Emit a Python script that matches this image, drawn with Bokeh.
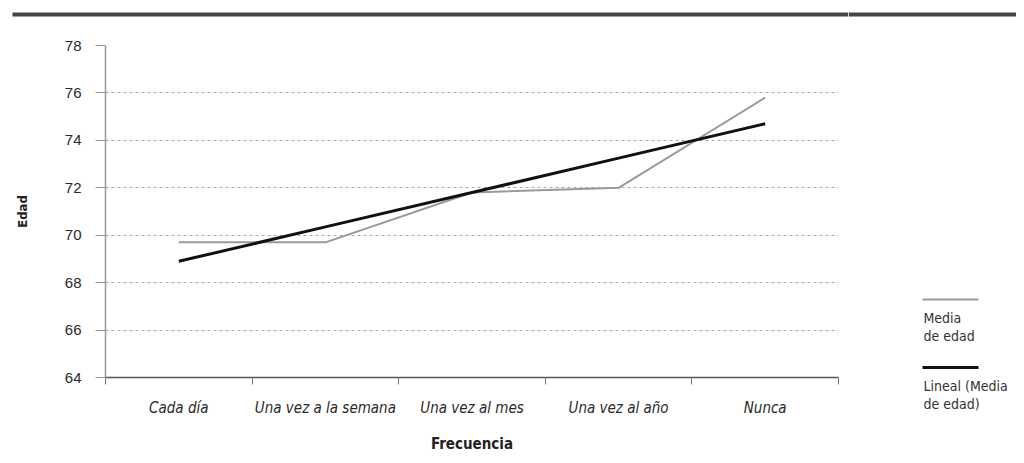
from bokeh.plotting import figure
from bokeh.models import (Range1d, FixedTicker, Label, BoxAnnotation)
from bokeh.layouts import column, row
from bokeh.embed import file_html
from bokeh.resources import INLINE

categories = ["Cada día", "Una vez a la semana", "Una vez al mes", "Una vez al año", "Nunca"]
media_edad = [69.7, 69.7, 71.8, 72.0, 75.8]
lineal_media = [68.9, 70.35, 71.8, 73.25, 74.7]
y_ticks = [64, 66, 68, 70, 72, 74, 76, 78]
grid_ticks = [66, 68, 70, 72, 74, 76]
legend_labels = [["Media", "de edad"], ["Lineal (Media", "de edad)"]]

FONT = "'DejaVu Sans Condensed', 'Liberation Sans Narrow', 'Liberation Sans', sans-serif"
FONT2 = "'Liberation Sans', Arial, sans-serif"

xs = list(range(1, len(categories) + 1))

W, H = 1016, 455
RULE_H = 20
MAIN_W = 848
MAIN_H = H - RULE_H
LEG_W = W - MAIN_W


def blank_fig(w, h):
    f = figure(width=w, height=h, output_backend="svg", toolbar_location=None,
               x_range=Range1d(0, 1), y_range=Range1d(0, 1),
               x_axis_type=None, y_axis_type=None, min_border=0)
    f.outline_line_color = None
    f.grid.visible = False
    f.background_fill_color = "white"
    f.border_fill_color = "white"
    return f


def rule_box(fig_h, left, right):
    # page y 12..16 (figure top at page y 0)
    return BoxAnnotation(left=left, right=right, bottom=fig_h - 16, top=fig_h - 12,
                         left_units="screen", right_units="screen",
                         top_units="screen", bottom_units="screen",
                         fill_color="#454545", fill_alpha=1, line_color=None)


# ---- top rule over the chart ----
rule = blank_fig(MAIN_W, RULE_H)
rule.add_layout(rule_box(RULE_H, 12, MAIN_W))

# ---- main chart ----
p = figure(width=MAIN_W, height=MAIN_H, output_backend="svg", toolbar_location=None,
           x_range=Range1d(0.5, len(categories) + 0.5), y_range=Range1d(64, 78),
           min_border_left=105, min_border_right=10, min_border_top=25, min_border_bottom=78)
p.outline_line_color = None
p.background_fill_color = "white"
p.border_fill_color = "white"

p.line(xs, media_edad, line_color="#9a9a9a", line_width=2)
p.line(xs, lineal_media, line_color="#111111", line_width=3)

xa = p.xaxis[0]
xa.ticker = FixedTicker(ticks=xs, minor_ticks=[x - 0.5 for x in xs] + [len(xs) + 0.5])
xa.major_label_overrides = {x: c for x, c in zip(xs, categories)}
xa.major_tick_out = 0
xa.major_tick_in = 0
xa.minor_tick_out = 7
xa.minor_tick_in = 0
xa.minor_tick_line_color = "#777777"
xa.axis_line_color = "#555555"
xa.axis_line_width = 1.5
xa.major_label_text_font = FONT
xa.major_label_text_font_style = "italic"
xa.major_label_text_font_size = "15px"
xa.major_label_text_color = "#2a2a2a"
xa.major_label_standoff = 14
xa.axis_label = "Frecuencia"
xa.axis_label_text_font = FONT
xa.axis_label_text_font_style = "bold"
xa.axis_label_text_font_size = "15px"
xa.axis_label_text_color = "#222222"
xa.axis_label_standoff = 15

ya = p.yaxis[0]
ya.ticker = FixedTicker(ticks=y_ticks)
ya.minor_tick_line_color = None
ya.major_tick_out = 10
ya.major_tick_in = 0
ya.major_tick_line_color = "#999999"
ya.axis_line_color = "#999999"
ya.axis_line_width = 1.5
ya.major_label_text_font = FONT2
ya.major_label_text_font_size = "15px"
ya.major_label_text_color = "#2a2a2a"
ya.major_label_standoff = 14
ya.axis_label = "Edad"
ya.axis_label_text_font = FONT
ya.axis_label_text_font_style = "bold"
ya.axis_label_text_font_size = "13px"
ya.axis_label_text_color = "#222222"
ya.axis_label_standoff = 32

p.xgrid.visible = False
p.ygrid.ticker = FixedTicker(ticks=grid_ticks)
p.ygrid.grid_line_color = "#aaaaaa"
p.ygrid.grid_line_dash = "3 3"
p.ygrid.grid_line_width = 1

# ---- legend column (full height; line above its text) ----
leg = blank_fig(LEG_W, H)
leg.add_layout(rule_box(H, 0, LEG_W))


def ly(Y):
    return H - Y


legend_colors = ["#9a9a9a", "#111111"]
legend_widths = [2, 3]
line_Y = [299, 367]
for (lab, col, lw, LY) in zip(legend_labels, legend_colors, legend_widths, line_Y):
    leg.add_layout(BoxAnnotation(left=922 - MAIN_W, right=978 - MAIN_W,
                                 top=ly(LY) + lw / 2, bottom=ly(LY) - lw / 2,
                                 left_units="screen", right_units="screen",
                                 top_units="screen", bottom_units="screen",
                                 fill_color=col, fill_alpha=1, line_color=None))
    for i, t in enumerate(lab):
        leg.add_layout(Label(x=923 - MAIN_W, y=ly(LY + 18 + i * 18), x_units="screen", y_units="screen",
                             text=t, text_font=FONT, text_font_size="14px", text_color="#333333",
                             text_baseline="middle", text_align="left"))

layout = row(column(row(rule, spacing=0), p, spacing=0), leg, spacing=0)
open("out.html", "w").write(file_html(layout, INLINE))
